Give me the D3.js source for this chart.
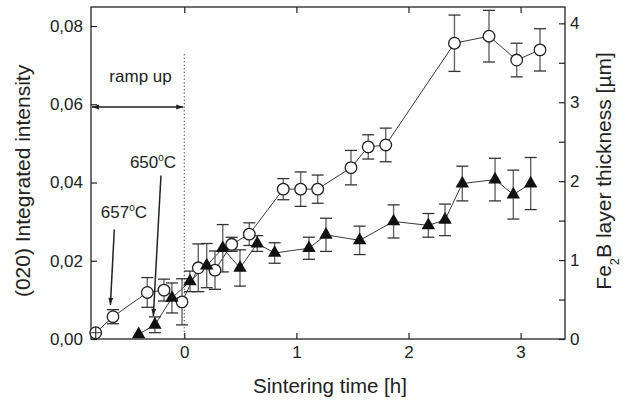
<!DOCTYPE html>
<html>
<head>
<meta charset="utf-8">
<script src="https://cdn.jsdelivr.net/npm/d3@7"></script>
<style>
  body { margin: 0; background: #fff; }
  svg { font-family: "Liberation Sans", Arial, sans-serif; }
  .tick text { font-size: 17px; fill: #222; }
</style>
</head>
<body>
<div id="chart"></div>
<script>
// Open circles: (020) integrated intensity (left axis)
const timeCirc = [-0.79, -0.636, -0.33, -0.181, -0.02, 0.125, 0.274, 0.423, 0.58, 0.883, 1.038, 1.19, 1.487, 1.641, 1.797, 2.41, 2.718, 2.965, 3.173];
const intensity = [0.0016, 0.0057, 0.0119, 0.0125, 0.0095, 0.0182, 0.0176, 0.0242, 0.0268, 0.0383, 0.0383, 0.0383, 0.0438, 0.0491, 0.0496, 0.0756, 0.0774, 0.0713, 0.0739];
const intensityErr = [0.0003, 0.0018, 0.0038, 0.0028, 0.0059, 0.0061, 0.0049, 0.0018, 0.0029, 0.0027, 0.0044, 0.0036, 0.0044, 0.0031, 0.0043, 0.0072, 0.0066, 0.0043, 0.0054];

// Filled triangles: Fe2B layer thickness (right axis)
const timeTri = [-0.407, -0.262, -0.11, 0.051, 0.2, 0.343, 0.497, 0.651, 0.806, 1.112, 1.264, 1.564, 1.867, 2.177, 2.326, 2.48, 2.772, 2.935, 3.09];
const thickness = [0.06, 0.18, 0.52, 0.73, 0.93, 1.15, 0.9, 1.21, 1.09, 1.15, 1.32, 1.25, 1.49, 1.44, 1.51, 1.97, 2.02, 1.83, 1.97];
const thicknessErr = [0, 0.1, 0.19, 0.13, 0.28, 0.3, 0.23, 0.1, 0.13, 0.14, 0.21, 0.18, 0.21, 0.15, 0.2, 0.22, 0.27, 0.31, 0.33];

const timeTicks = [0, 1, 2, 3];
const leftTicks = [0, 0.02, 0.04, 0.06, 0.08];
const rightTicks = [0, 1, 2, 3, 4];
const rightMinor = [0.5, 1.5, 2.5, 3.5];

// Dimensions
const margin = { top: 7, right: 62, bottom: 63, left: 91 },
    width = 627 - margin.left - margin.right,
    height = 402 - margin.top - margin.bottom;

const svg = d3.select("#chart")
    .append("svg")
    .attr("width", 627)
    .attr("height", 402)
    .append("g")
    .attr("transform", `translate(${margin.left},${margin.top})`);

// Scales
const x = d3.scaleLinear().domain([-0.832, 3.396]).range([0, width]);
const yL = d3.scaleLinear().domain([0, 0.08486]).range([height, 0]);
const yR = d3.scaleLinear().domain([0, 4.207]).range([height, 0]);

const comma = d3.formatLocale({ decimal: ",", thousands: ".", grouping: [3], currency: ["", ""] }).format(".2f");

// Axes (ticks pointing inward)
svg.append("g")
    .attr("transform", `translate(0,${height})`)
    .call(d3.axisBottom(x).tickValues(timeTicks).tickSizeInner(-6).tickSizeOuter(0).tickPadding(7).tickFormat(d3.format("d")))
    .call(g => g.select(".domain").remove());

svg.append("g")
    .call(d3.axisTop(x).tickValues(timeTicks).tickSizeInner(-6).tickSizeOuter(0).tickFormat(""))
    .call(g => g.select(".domain").remove());

svg.append("g")
    .call(d3.axisLeft(yL).tickValues(leftTicks).tickSizeInner(-6).tickSizeOuter(0).tickPadding(8).tickFormat(comma))
    .call(g => g.select(".domain").remove());

svg.append("g")
    .attr("transform", `translate(${width},0)`)
    .call(d3.axisRight(yR).tickValues(rightTicks).tickSizeInner(-6).tickSizeOuter(0).tickPadding(5).tickFormat(d3.format("d")))
    .call(g => g.select(".domain").remove());

svg.append("g")
    .attr("transform", `translate(${width},0)`)
    .call(d3.axisRight(yR).tickValues(rightMinor).tickSizeInner(-6).tickSizeOuter(0).tickFormat(""))
    .call(g => g.select(".domain").remove());

svg.selectAll(".tick line").attr("stroke", "#222").attr("stroke-width", 1.2);

// Frame
svg.append("rect")
    .attr("width", width)
    .attr("height", height)
    .attr("fill", "none")
    .attr("stroke", "#222")
    .attr("stroke-width", 1.3);

// Axis titles
svg.append("text")
    .attr("x", x(1.3))
    .attr("y", height + 54)
    .attr("text-anchor", "middle")
    .style("font-size", "20.5px")
    .attr("fill", "#222")
    .text("Sintering time [h]");

svg.append("text")
    .attr("transform", `translate(${-margin.left + 30},${yL(0.0404)}) rotate(-90)`)
    .attr("text-anchor", "middle")
    .style("font-size", "21px")
    .attr("fill", "#222")
    .text("(020) Integrated intensity");

const rt = svg.append("text")
    .attr("transform", `translate(${width + 46},${yR(2.13)}) rotate(-90)`)
    .attr("text-anchor", "middle")
    .style("font-size", "21px")
    .attr("fill", "#222");
rt.append("tspan").text("Fe");
rt.append("tspan").attr("baseline-shift", "sub").style("font-size", "13px").text("2");
rt.append("tspan").text("B layer thickness [\u00b5m]");

// Ramp-up marker
svg.append("line")
    .attr("x1", x(0)).attr("x2", x(0))
    .attr("y1", yL(0.0728)).attr("y2", height)
    .attr("stroke", "#333")
    .attr("stroke-width", 1)
    .attr("stroke-dasharray", "1.2,2.3");

const defs = svg.append("defs");
defs.append("marker")
    .attr("id", "head")
    .attr("viewBox", "0 0 10 10")
    .attr("refX", 10).attr("refY", 5)
    .attr("markerWidth", 10).attr("markerHeight", 7)
    .attr("markerUnits", "userSpaceOnUse")
    .attr("orient", "auto-start-reverse")
    .append("path")
    .attr("d", "M0,1.5 L10,5 L0,8.5 Z")
    .attr("fill", "#222");

svg.append("line")
    .attr("x1", x(-0.832) + 1).attr("x2", x(0) - 1)
    .attr("y1", yL(0.0593)).attr("y2", yL(0.0593))
    .attr("stroke", "#222")
    .attr("stroke-width", 1.5)
    .attr("marker-start", "url(#head)")
    .attr("marker-end", "url(#head)");

svg.append("text")
    .attr("x", x(-0.39))
    .attr("y", yL(0.0658))
    .attr("text-anchor", "middle")
    .style("font-size", "17px")
    .attr("fill", "#222")
    .text("ramp up");

// Temperature annotations
function tempLabel(tx, ty, label) {
    const t = svg.append("text")
        .attr("x", x(tx)).attr("y", yL(ty))
        .style("font-size", "17px")
        .attr("fill", "#222");
    t.append("tspan").text(label);
    t.append("tspan").attr("dy", -7).style("font-size", "10px").text("o");
    t.append("tspan").attr("dy", 7).text("C");
}
tempLabel(-0.745, 0.0309, "657");
tempLabel(-0.485, 0.0437, "650");

function arrow(x1, v1, x2, v2) {
    svg.append("line")
        .attr("x1", x(x1)).attr("y1", yL(v1))
        .attr("x2", x(x2)).attr("y2", yL(v2))
        .attr("stroke", "#222")
        .attr("stroke-width", 1.5)
        .attr("marker-end", "url(#head)");
}
arrow(-0.624, 0.0280, -0.659, 0.0087);
arrow(-0.208, 0.0418, -0.276, 0.0059);

// Connecting lines
const circData = timeCirc.map((t, i) => ({ t: t, v: intensity[i], e: intensityErr[i] }));
const triData = timeTri.map((t, i) => ({ t: t, v: thickness[i], e: thicknessErr[i] }));

svg.append("path")
    .datum(circData)
    .attr("fill", "none")
    .attr("stroke", "#222")
    .attr("stroke-width", 0.9)
    .attr("d", d3.line().x(d => x(d.t)).y(d => yL(d.v)));

svg.append("path")
    .datum(triData)
    .attr("fill", "none")
    .attr("stroke", "#222")
    .attr("stroke-width", 0.9)
    .attr("d", d3.line().x(d => x(d.t)).y(d => yR(d.v)));

// Error bars
function errorBars(data, y, cls) {
    const g = svg.selectAll("." + cls)
        .data(data.filter(d => d.e > 0))
        .enter().append("g")
        .attr("class", cls);
    g.append("line")
        .attr("x1", d => x(d.t)).attr("x2", d => x(d.t))
        .attr("y1", d => y(d.v - d.e)).attr("y2", d => y(d.v + d.e))
        .attr("stroke", "#666").attr("stroke-width", 1.4);
    g.append("line")
        .attr("x1", d => x(d.t) - 6).attr("x2", d => x(d.t) + 6)
        .attr("y1", d => y(d.v + d.e)).attr("y2", d => y(d.v + d.e))
        .attr("stroke", "#333").attr("stroke-width", 1.3);
    g.append("line")
        .attr("x1", d => x(d.t) - 6).attr("x2", d => x(d.t) + 6)
        .attr("y1", d => y(d.v - d.e)).attr("y2", d => y(d.v - d.e))
        .attr("stroke", "#333").attr("stroke-width", 1.3);
}
errorBars(circData, yL, "errc");
errorBars(triData, yR, "errt");

// Markers
const r = 5.8;
svg.selectAll(".circ")
    .data(circData)
    .enter().append("circle")
    .attr("class", "circ")
    .attr("cx", d => x(d.t))
    .attr("cy", d => yL(d.v))
    .attr("r", r)
    .attr("fill", "#fff")
    .attr("stroke", "#222")
    .attr("stroke-width", 1.3);

// Error smaller than the marker: draw the bar across it
const small = circData.filter(d => yL(d.v - d.e) - yL(d.v + d.e) < r);
svg.selectAll(".cross")
    .data(small)
    .enter().append("path")
    .attr("class", "cross")
    .attr("d", d => `M${x(d.t)},${yL(d.v) - r}V${yL(d.v) + r}M${x(d.t) - 6},${yL(d.v)}H${x(d.t) + 6}`)
    .attr("stroke", "#333")
    .attr("stroke-width", 1.2);

svg.selectAll(".tri")
    .data(triData)
    .enter().append("path")
    .attr("class", "tri")
    .attr("transform", d => `translate(${x(d.t)},${yR(d.v)})`)
    .attr("d", d3.symbol().type(d3.symbolTriangle).size(78))
    .attr("fill", "#111");
</script>
</body>
</html>
